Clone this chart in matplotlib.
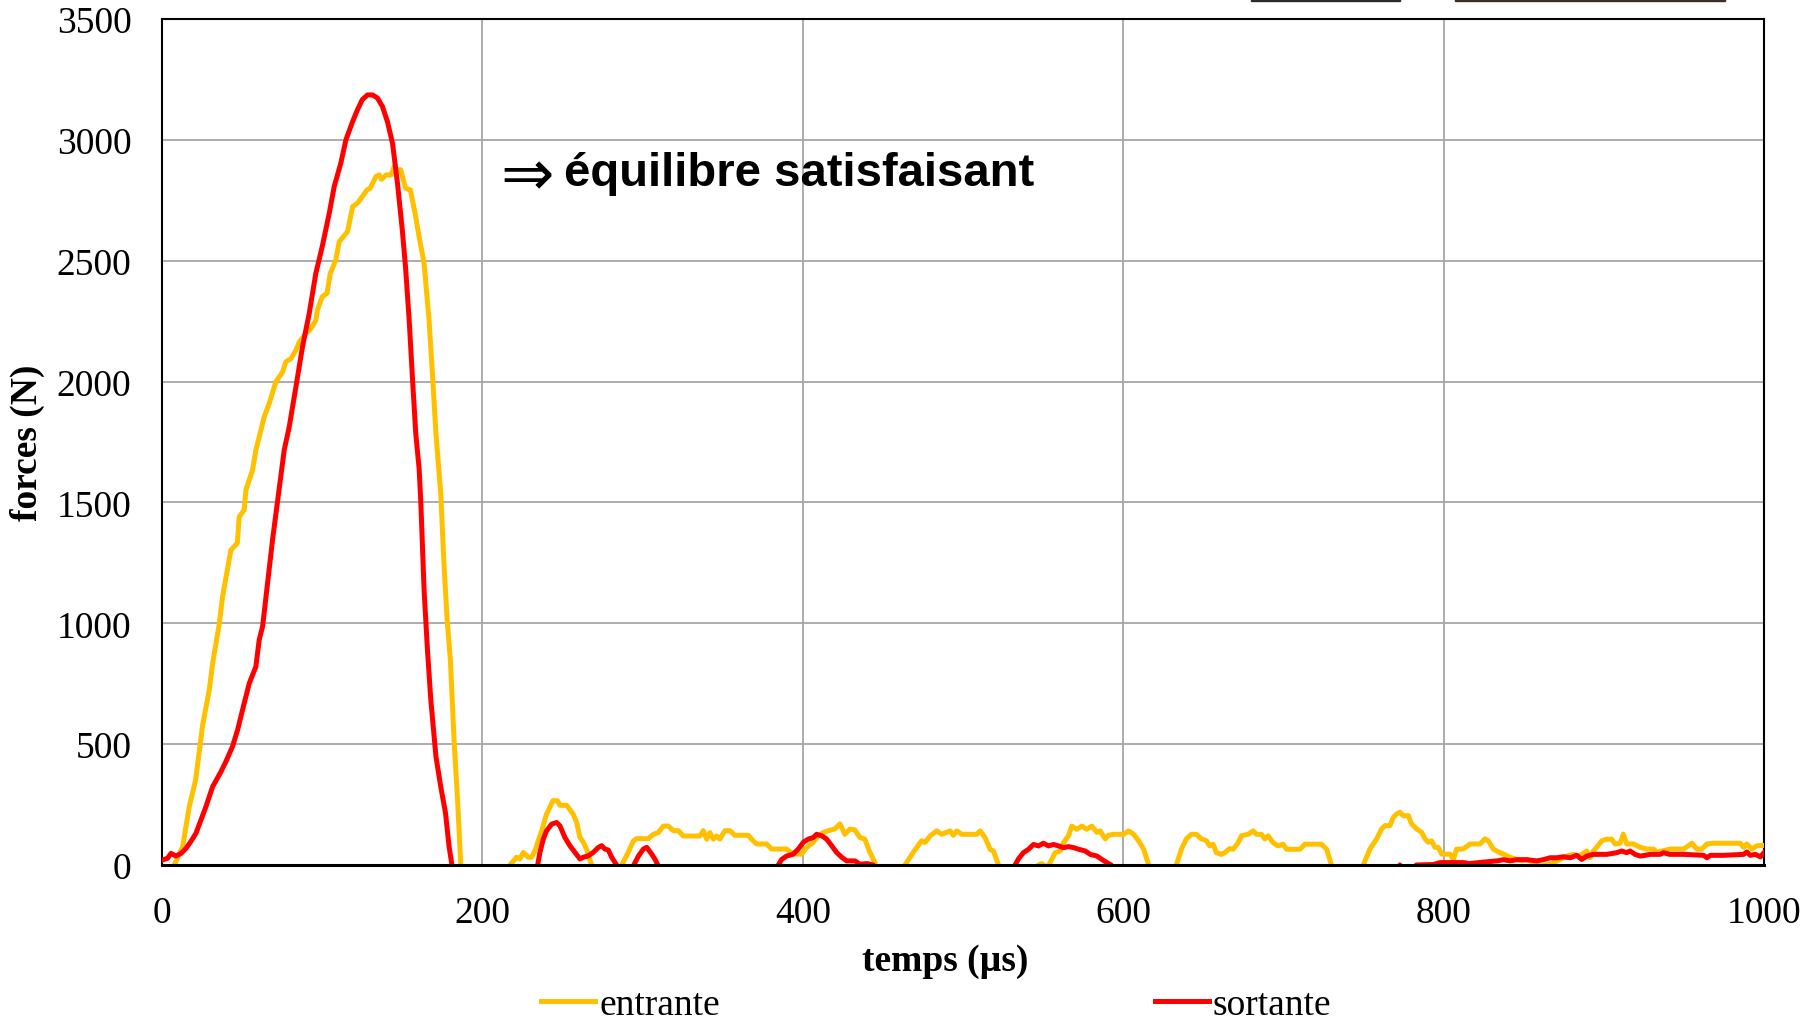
import numpy as np
import matplotlib.pyplot as plt
from matplotlib.patches import Rectangle

entrante_color = '#FFC000'
sortante_color = '#FF0000'

# incoming force (entrante), negative values fall below the axis and get clipped
t_in = [0, 7.7, 12.9, 17, 21, 23, 25.4, 29.5, 31.6, 35.8, 37.8, 43, 47, 48.2, 51.3, 52.4, 56.5,
        58.6, 63.8, 66.9, 71.1, 75.3, 77.3, 80.5, 83.6, 85.7, 89.9, 93, 96, 97, 100, 103, 105,
        108.5, 110.6, 115.8, 119, 122, 125, 128, 130, 133.5, 135.6, 137, 140, 143, 145, 147, 149,
        152, 155, 158, 160.5, 163.6, 166.7, 168.8, 171, 174, 176, 178, 180, 182.4, 184.5, 186.5, 188,
        215, 217.2, 221.4, 223.4, 225.5, 228.7, 230.7, 232.8, 237, 240, 242, 244, 246.8, 248.4,
        252.6, 256.7, 258.8, 260.9, 263, 265, 268, 270,
        285, 287, 291, 294.3, 296.3, 303.6, 306.7, 309.8, 313, 316, 319.2, 322.3, 325.4, 335.8,
        337.9, 340, 342, 344.1, 346.2, 348.2, 351.4, 354.5, 357.6, 366, 368, 371.2, 377.4, 380.5,
        389.9, 394, 399.2, 402.3, 406.5, 409.6, 412.7, 415.9, 420, 423.2, 426.3, 429.4, 432.5,
        435.6, 438.7, 441.9, 445, 447,
        462, 463.8, 468.9, 474.1, 476.3, 479.4, 483.6, 486.7, 491.9, 494, 496.1, 499.2, 508.6,
        510.7, 513.8, 516.9, 519, 522.2, 524,
        545.5, 547.1, 549.2, 551.5, 553.5, 555.4, 557.5, 560.6, 562.7, 565.8, 567.9, 571, 574.2,
        577.3, 580.4, 583.6, 585.6, 588.8, 590.8, 594, 600.2, 603.4, 606.5, 609.6, 612.8, 615.9, 618,
        631, 633.2, 636.3, 639.4, 642.6, 645.7, 648.8, 652, 654, 656.1, 658.2, 661.3, 663.4, 666.5,
        668.6, 671.7, 673.8, 678, 681.1, 683.2, 686.3, 688.4, 690.5, 693.6, 696.7, 699.8, 702,
        710.3, 713.4, 723.8, 727, 730, 732,
        748, 749.9, 754, 758.2, 761.3, 763.4, 766.5, 768.6, 770.7, 772.7, 774.8, 778, 780, 783.2,
        786.3, 788.4, 790.5, 792.5, 794.6, 796.7, 798.8, 804, 806.1, 808.1, 812.3, 816.5, 822.7,
        825.8, 827.9, 831, 834.2, 837.3, 841.5, 845.6, 848.7, 851.9, 856, 860.2, 864.3, 868.5,
        872.7, 876.8, 881, 884.1, 886.2, 889.3, 891.4, 893.5, 895.5, 898.7, 901.8, 904.9, 907,
        910.2, 912.2, 914.3, 918.5, 922.7, 926.8, 931, 933.1, 937.2, 941.4, 949.7, 952.9, 955,
        958.1, 961.2, 964.4, 968.5, 985.2, 987.3, 989.3, 992.5, 995.6, 1000]
f_in = [-150, 0, 76, 241, 352, 455, 580, 724, 834, 1000, 1110, 1303, 1331, 1441, 1469, 1552, 1634,
        1716, 1854, 1909, 1999, 2040, 2082, 2095, 2130, 2164, 2199, 2220, 2254, 2296, 2351, 2365, 2447,
        2503, 2579, 2620, 2724, 2738, 2765, 2793, 2800, 2848, 2855, 2837, 2855, 2855, 2890, 2876, 2876,
        2800, 2793, 2696, 2599, 2489, 2254, 2033, 1785, 1537, 1247, 1013, 849, 504, 269, 0, -200,
        -200, 0, 32, 25, 52, 32, 32, 59, 142, 210, 237, 266, 266, 247,
        247, 210, 177, 114, 94, 66, 3, -60,
        -60, 0, 52, 100, 109, 109, 127, 134, 161, 161, 142, 142, 120, 120,
        142, 107, 134, 107, 120, 107, 142, 142, 123, 123, 107, 87, 87, 66,
        66, 45, 45, 72, 94, 120, 134, 142, 149, 170, 127, 149, 145,
        114, 107, 52, 10, -60,
        -60, 0, 52, 100, 93, 120, 141, 127, 141, 123, 141, 127, 127,
        141, 113, 65, 58, 0, -60,
        -30, 0, 6, -8, 0, 23, 51, 58, 92, 121, 161, 148, 161,
        148, 161, 135, 141, 108, 123, 127, 127, 141, 127, 100, 65, 0, -60,
        -60, 0, 65, 108, 127, 127, 108, 100, 79, 86, 51, 44, 51, 68,
        65, 92, 121, 127, 141, 127, 127, 108, 121, 92, 79, 86, 65,
        65, 86, 86, 65, 0, -60,
        -60, 0, 66, 108, 149, 163, 163, 197, 211, 218, 204, 204, 170, 149,
        135, 108, 94, 100, 73, 73, 45, 45, 23, 66, 66, 87, 87,
        108, 100, 66, 54, 45, 32, 23, 17, 23, 10, -4, 0, 10,
        23, 37, 44, 37, 44, 58, 30, 58, 73, 100, 107, 107, 87,
        90, 128, 87, 87, 73, 66, 66, 54, 59, 66, 66, 80, 90,
        66, 66, 87, 90, 90, 73, 87, 66, 80, 81]

# outgoing force (sortante)
t_out = [0, 3.5, 5.6, 8.7, 11.9, 15, 18, 21.2, 24.3, 27.4, 31.6, 36.8, 39.9, 44, 47.2, 51.3, 54.5,
         58.6, 60.7, 62.8, 65.9, 69, 72, 74.2, 76.3, 79.4, 83.6, 87.7, 91.9, 96, 100, 104.4, 107.5,
         111.6, 114.8, 119, 122, 125, 128.3, 131.4, 134.5, 137.6, 140.7, 143.9, 147, 150, 152, 154.3,
         156.3, 158.4, 160.5, 161.5, 163.6, 165.7, 167.8, 171, 174, 177, 179.2, 181, 182,
         232.5, 234.5, 235.9, 238, 240, 243.2, 246.3, 248.4, 251.5, 254.6, 257.8, 260.9, 263, 266.1,
         269.2, 272.4, 274.4, 276.5, 278.6, 280.7, 283.8, 285.5,
         292.5, 294.5, 297.4, 300.5, 302.6, 305.7, 307.8, 309.5, 311,
         383, 384.7, 386.8, 389.9, 394, 397.2, 400.3, 403.4, 406.6, 408.6, 411.8, 414.9, 418, 421.1,
         424.3, 427.4, 432.6, 435.7, 439.9, 444, 446,
         530, 532.5, 534.6, 537.7, 540.9, 544, 547.1, 550.2, 553.4, 556.5, 559.6, 562.7, 565.9, 569,
         572.2, 576.3, 579.4, 583.6, 586.7, 589.8, 592.5, 594,
         771, 772.7, 774, 781, 783, 793.6, 797.8, 812.3, 816, 825, 833.3, 837.5, 841.5, 845.6, 851.9,
         858.1, 862.3, 866.5, 870.6, 874.8, 879, 883.1, 886.2, 889.4, 893.5, 901.8, 908.1, 911.2,
         914.3, 916.4, 919.5, 922.7, 925.8, 928.9, 935.2, 937.3, 941, 949.7, 962.3, 964.4, 966.5,
         974.8, 987.3, 989.3, 991.4, 994.6, 997.7, 1000]
f_out = [20, 28, 48, 37, 48, 69, 97, 131, 186, 241, 324, 386, 428, 490, 559, 669, 752,
         821, 932, 987, 1166, 1345, 1497, 1607, 1717, 1812, 1978, 2144, 2282, 2447, 2558, 2696, 2807,
         2903, 3000, 3076, 3124, 3166, 3186, 3186, 3173, 3138, 3076, 2986, 2820, 2627, 2475, 2254,
         2019, 1785, 1640, 1510, 1138, 890, 683, 449, 324, 214, 76, 0, -200,
         -60, 0, 52, 107, 141, 169, 176, 162, 114, 80, 52, 25, 32, 38,
         52, 73, 80, 66, 62, 32, 0, -60,
         -60, 0, 37, 66, 73, 45, 23, 0, -60,
         -60, 0, 23, 37, 45, 66, 94, 107, 114, 127, 121, 107, 80, 52,
         32, 17, 17, 3, 6, 0, -60,
         -60, 0, 25, 51, 65, 85, 79, 90, 79, 85, 79, 72, 76, 72,
         65, 58, 44, 37, 23, 10, 0, -60,
         -60, 0, -60, -60, 0, 2, 10, 10, 6, 12, 17, 22, 17, 22, 22,
         17, 22, 30, 30, 34, 30, 40, 23, 37, 44, 44, 51, 58,
         51, 58, 44, 37, 40, 44, 44, 51, 44, 44, 40, 30, 40,
         40, 44, 54, 40, 44, 34, 51]

x_ticks = [0, 200, 400, 600, 800, 1000]
y_ticks = [0, 500, 1000, 1500, 2000, 2500, 3000, 3500]

plt.rcParams['font.family'] = ['Liberation Serif', 'DejaVu Serif']

fig = plt.figure(figsize=(18.18, 10.20), dpi=100)
ax = fig.add_axes([162 / 1818, 1 - 866 / 1020, (1764 - 162) / 1818, (866 - 20) / 1020])

ax.plot(t_in, f_in, color=entrante_color, linewidth=3.6, label='entrante', zorder=3)
ax.plot(t_out, f_out, color=sortante_color, linewidth=3.6, label='sortante', zorder=4)

ax.set_xlim(0, 1000)
ax.set_ylim(0, 3500)
ax.set_xticks(x_ticks)
ax.set_yticks(y_ticks)
ax.tick_params(axis='both', length=0, labelsize=27)
ax.tick_params(axis='x', pad=22)
ax.tick_params(axis='y', pad=22)
ax.grid(True, color='#A6A6A6', linewidth=1.3, zorder=0)
ax.set_axisbelow(True)
for side in ['left', 'top', 'right']:
    ax.spines[side].set_linewidth(1.5)
    ax.spines[side].set_color('black')
ax.spines['bottom'].set_linewidth(2.2)
ax.spines['bottom'].set_zorder(5)

ax.set_xlabel('temps (µs)', fontsize=27, fontweight='bold')
ax.xaxis.set_label_coords((945 - 162) / (1764 - 162), -0.092)
ax.set_ylabel('forces (N)', fontsize=27, fontweight='bold')
ax.yaxis.set_label_coords(-0.073, 0.5)

# annotation: arrow and words
ax.text(211, 2850, '⇒', fontsize=46, family=['DejaVu Sans'], va='center', ha='left')
ax.text(251, 2863, 'équilibre satisfaisant', fontsize=34, fontweight='bold',
        family=['Liberation Sans', 'DejaVu Sans'], va='center', ha='left')

fig.legend(loc='center', bbox_to_anchor=(0.515, 1 - 1006 / 1020), ncol=2, frameon=False,
           fontsize=27, handlelength=1.45, handletextpad=0.1, columnspacing=11.6)

# bits of a picture cut off at the top edge
fig.patches.append(Rectangle((1251 / 1818, 1 - 1.5 / 1020), 149 / 1818, 1.5 / 1020,
                             transform=fig.transFigure, color='#2b2b2b'))
fig.patches.append(Rectangle((1455 / 1818, 1 - 1.5 / 1020), 270 / 1818, 1.5 / 1020,
                             transform=fig.transFigure, color='#3a2f22'))

fig.savefig('out.png', dpi=100)
